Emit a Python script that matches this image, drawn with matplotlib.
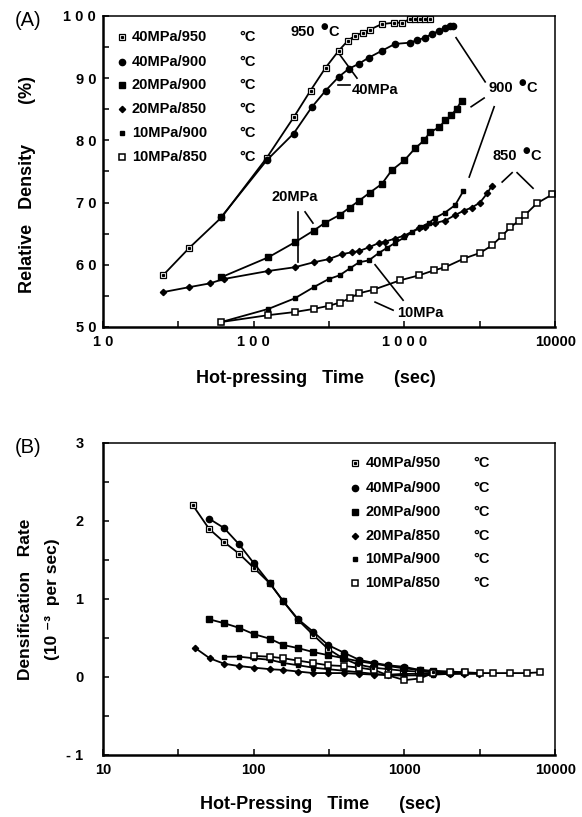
import matplotlib
matplotlib.use('Agg')
import matplotlib.pyplot as plt
from matplotlib.ticker import FixedLocator

plt.rcParams['font.family'] = ['Liberation Sans', 'DejaVu Sans']
plt.rcParams['font.weight'] = 'bold'

# ---- panel A: relative density vs hot-pressing time ----
a950_t = [25, 37.3, 61, 122, 184, 238, 300, 366, 420, 468, 528, 589, 708, 850, 960, 1087, 1174, 1265, 1367, 1475]
a950_d = [58.3, 62.7, 67.6, 77.2, 83.7, 88.0, 91.7, 94.4, 96.0, 96.8, 97.3, 97.8, 98.7, 98.9, 98.9, 99.5, 99.5, 99.5, 99.5, 99.5]

a40_900_t = [61, 122, 184, 242, 300, 366, 427, 497, 580, 708, 864, 1087, 1210, 1367, 1520, 1700, 1860, 2000, 2090]
a40_900_d = [67.7, 76.8, 81.1, 85.3, 88.0, 90.2, 91.5, 92.3, 93.3, 94.4, 95.5, 95.7, 96.1, 96.5, 97.1, 97.6, 98.1, 98.4, 98.4]

a20_900_t = [61, 125, 187, 250, 295, 371, 433, 500, 589, 708, 824, 1000, 1174, 1350, 1475, 1700, 1860, 2040, 2220, 2400]
a20_900_d = [58.0, 61.2, 63.6, 65.5, 66.7, 68.0, 69.2, 70.3, 71.6, 73.0, 75.2, 76.8, 78.7, 80.0, 81.3, 82.1, 83.2, 84.0, 85.1, 86.4]

a20_850_t = [25, 37.3, 51, 63, 125, 187, 250, 314, 384, 447, 500, 580, 676, 740, 864, 1000, 1250, 1367, 1590, 1860, 2170, 2480, 2800, 3170, 3540, 3800]
a20_850_d = [55.6, 56.4, 57.0, 57.7, 59.0, 59.6, 60.4, 60.9, 61.7, 62.0, 62.2, 62.8, 63.5, 63.7, 64.2, 64.7, 65.9, 66.0, 66.7, 67.1, 68.0, 68.7, 69.2, 70.0, 71.5, 72.7]

a10_900_t = [61, 125, 187, 250, 314, 371, 433, 500, 580, 676, 764, 864, 1000, 1120, 1265, 1450, 1590, 1860, 2170, 2450]
a10_900_d = [50.8, 52.9, 54.6, 56.4, 57.7, 58.3, 59.4, 60.4, 60.7, 61.9, 62.7, 63.5, 64.4, 65.2, 66.0, 66.7, 67.5, 68.4, 69.6, 71.8]

a10_850_t = [61, 125, 187, 250, 314, 371, 433, 497, 625, 935, 1250, 1567, 1860, 2480, 3170, 3800, 4460, 5030, 5760, 6300, 7580, 9560]
a10_850_d = [50.8, 51.9, 52.4, 52.9, 53.4, 53.9, 54.6, 55.4, 56.0, 57.5, 58.3, 59.1, 59.6, 61.0, 61.9, 63.1, 64.7, 66.0, 67.1, 68.0, 69.9, 71.3]

# ---- panel B: densification rate (1e-3 per sec) ----
b950_t = [39.5, 50.5, 63.5, 80, 100, 128, 157, 197, 248, 311, 390, 490, 620, 780, 980, 1230, 1550]
b950_r = [2.2, 1.9, 1.73, 1.58, 1.4, 1.2, 0.97, 0.73, 0.54, 0.36, 0.24, 0.16, 0.12, 0.10, 0.08, 0.07, 0.06]

b40_900_t = [50.5, 63.5, 80, 100, 128, 157, 197, 248, 311, 398, 500, 630, 780, 1000, 1260, 1550, 2000]
b40_900_r = [2.03, 1.91, 1.70, 1.46, 1.20, 0.97, 0.74, 0.58, 0.41, 0.31, 0.22, 0.18, 0.15, 0.13, 0.09, 0.07, 0.06]

b20_900_t = [50.5, 63.5, 80, 100, 128, 157, 197, 248, 311, 398, 500, 630, 780, 1000, 1260, 1550, 2000, 2480]
b20_900_r = [0.74, 0.69, 0.63, 0.55, 0.49, 0.41, 0.37, 0.32, 0.28, 0.24, 0.20, 0.17, 0.14, 0.11, 0.09, 0.08, 0.07, 0.06]

b20_850_t = [41, 51, 63.5, 80, 100, 128, 157, 197, 248, 311, 398, 500, 630, 780, 1000, 1260, 1550, 2000, 2480, 3100]
b20_850_r = [0.37, 0.24, 0.17, 0.14, 0.12, 0.10, 0.09, 0.07, 0.05, 0.05, 0.05, 0.04, 0.03, 0.03, 0.04, 0.04, 0.04, 0.04, 0.04, 0.04]

b10_900_t = [63.5, 80, 100, 128, 157, 197, 248, 311, 398, 500, 630, 780, 1000, 1260, 1550, 2000, 2480]
b10_900_r = [0.26, 0.26, 0.24, 0.22, 0.18, 0.15, 0.12, 0.10, 0.08, 0.06, 0.04, 0.02, 0.02, 0.02, 0.03, 0.04, 0.05]

b10_850_t = [100, 128, 157, 197, 248, 311, 398, 500, 630, 780, 1000, 1260, 1550, 2000, 2520, 3160, 3875, 5000, 6500, 7950]
b10_850_r = [0.27, 0.26, 0.24, 0.21, 0.18, 0.15, 0.14, 0.12, 0.09, 0.02, -0.04, -0.02, 0.05, 0.06, 0.06, 0.05, 0.05, 0.05, 0.05, 0.06]

labels = ['40MPa/950', '40MPa/900', '20MPa/900', '20MPa/850', '10MPa/900', '10MPa/850']

a_xticks = [10, 100, 1000, 10000]
a_xticklabels = ['1 0', '1 0 0', '1 0 0 0', '10000']
a_yticks = [50, 60, 70, 80, 90, 100]
a_yticklabels = ['5 0', '6 0', '7 0', '8 0', '9 0', '1 0 0']
b_xticks = [10, 100, 1000, 10000]
b_xticklabels = ['10', '100', '1000', '10000']
b_yticks = [-1, 0, 1, 2, 3]
b_yticklabels = ['- 1', '0', '1', '2', '3']

# marker styles per series (950 open square with dot, 900 circle, ...)
styles = [
    dict(marker='s', ms=4.2, mfc='white', mec='black', mew=0.9),
    dict(marker='o', ms=4.5, mfc='black', mec='black'),
    dict(marker='s', ms=5.0, mfc='black', mec='black'),
    dict(marker='D', ms=3.2, mfc='black', mec='black'),
    dict(marker='s', ms=3.4, mfc='black', mec='black'),
    dict(marker='s', ms=5.0, mfc='white', mec='black', mew=1.1),
]

fig = plt.figure(figsize=(5.82, 8.17), dpi=100)
axA = fig.add_axes([0.177, 0.5998, 0.777, 0.3807])
axB = fig.add_axes([0.177, 0.0759, 0.777, 0.3819])


def draw(ax, series):
    for (t, v), st in zip(series, styles):
        ax.plot(t, v, color='black', lw=1.3, **st)
    # dot inside the 40MPa/950 squares
    ax.plot(series[0][0], series[0][1], ls='none', marker='s', ms=1.3, color='black')


def frame(ax, xt, xtl, yt, ytl, yminor, ypad):
    ax.set_xscale('log')
    ax.set_xlim(10, 10000)
    ax.xaxis.set_major_locator(FixedLocator(xt))
    ax.set_xticklabels(xtl)
    ax.xaxis.set_minor_locator(FixedLocator([10 ** 1.5, 10 ** 2.5, 10 ** 3.5]))
    ax.xaxis.set_minor_formatter(plt.NullFormatter())
    ax.set_yticks(yt)
    ax.set_yticklabels(ytl)
    ax.yaxis.set_minor_locator(FixedLocator(yminor))
    ax.tick_params(which='both', direction='in', top=False, right=False, length=4, width=1.1)
    ax.tick_params(axis='x', labelsize=10.5, pad=6)
    ax.tick_params(axis='y', labelsize=10.5, pad=ypad)
    for s in ax.spines.values():
        s.set_linewidth(1.1)
    ax.spines['left'].set_linewidth(1.8)
    ax.spines['bottom'].set_linewidth(1.8)


def legend(ax, x0, rows):
    for i, (lab, y) in enumerate(zip(labels, rows)):
        st = styles[i]
        ax.plot([x0], [y], transform=ax.transAxes, clip_on=False, ls='none', color='black', **st)
        if i == 0:
            ax.plot([x0], [y], transform=ax.transAxes, ls='none', marker='s', ms=1.3, color='black')
        ax.text(x0 + 0.022, y, lab, transform=ax.transAxes, fontsize=10.5, va='center', ha='left')
        ax.text(x0 + 0.26, y, '°C', transform=ax.transAxes, fontsize=10.5, va='center', ha='left')


def temp_label(ax, x, y, num):
    # "950 •C" with a raised filled dot as in the original print
    ax.text(x, y, num, fontsize=10.5, va='center', ha='left')
    ax.annotate('\u25cf', xy=(x, y), xytext=(24.5, 4), textcoords='offset points',
                fontsize=6.2, ha='center', va='center', family='DejaVu Sans')
    ax.annotate('C', xy=(x, y), xytext=(27.5, 0), textcoords='offset points',
                fontsize=10.5, ha='left', va='center')


# ---- panel A ----
draw(axA, [(a950_t, a950_d), (a40_900_t, a40_900_d), (a20_900_t, a20_900_d),
           (a20_850_t, a20_850_d), (a10_900_t, a10_900_d), (a10_850_t, a10_850_d)])
axA.set_ylim(50, 100)
frame(axA, a_xticks, a_xticklabels, a_yticks, a_yticklabels, [55, 65, 75, 85, 95], 5)
legend(axA, 0.042, [0.932, 0.852, 0.778, 0.701, 0.624, 0.547])

ann = dict(fontsize=10.5, va='center', ha='left')
temp_label(axA, 174, 97.4, '950')
temp_label(axA, 3590, 88.4, '900')
temp_label(axA, 3812, 77.5, '850')
axA.text(449, 88.1, '40MPa', **ann)
axA.text(132, 70.9, '20MPa', **ann)
axA.text(893, 52.3, '10MPa', **ann)
leaders = [
    ((374, 484), (93.7, 90.0)),
    ((362, 436), (88.9, 88.9)),
    ((2198, 3430), (96.5, 89.4)),
    ((2768, 3375), (85.4, 86.8)),
    ((3935, 2687), (85.4, 74.1)),
    ((5177, 4446), (74.8, 73.3)),
    ((5585, 7125), (74.8, 72.3)),
    ((197, 197), (68.5, 60.5)),
    ((219, 247), (68.5, 66.7)),
    ((638, 979), (60.0, 54.3)),
    ((638, 840), (54.0, 52.7)),
]
for xs, ys in leaders:
    axA.plot(xs, ys, color='black', lw=1.2)

fig.text(0.026, 0.975, '(A)', fontsize=14.5, fontweight='normal', va='center', ha='left')
fig.text(0.048, 0.774, 'Relative   Density        (%)', fontsize=13, rotation=90, va='center', ha='center')
fig.text(0.543, 0.537, 'Hot-pressing   Time      (sec)', fontsize=13, va='center', ha='center')

# ---- panel B ----
draw(axB, [(b950_t, b950_r), (b40_900_t, b40_900_r), (b20_900_t, b20_900_r),
           (b20_850_t, b20_850_r), (b10_900_t, b10_900_r), (b10_850_t, b10_850_r)])
axB.set_ylim(-1, 3)
frame(axB, b_xticks, b_xticklabels, b_yticks, b_yticklabels, [-0.5, 0.5, 1.5, 2.5], 14)
legend(axB, 0.558, [0.936, 0.856, 0.779, 0.702, 0.628, 0.551])

fig.text(0.026, 0.452, '(B)', fontsize=14.5, fontweight='normal', va='center', ha='left')
fig.text(0.043, 0.267, 'Densification   Rate', fontsize=12.5, rotation=90, va='center', ha='center')
fig.text(0.090, 0.267, '(10 \u207b\u00b3  per sec)', fontsize=12.5, rotation=90, va='center', ha='center')
fig.text(0.55, 0.015, 'Hot-Pressing   Time      (sec)', fontsize=13, va='center', ha='center')

fig.savefig('out.png', dpi=100)
